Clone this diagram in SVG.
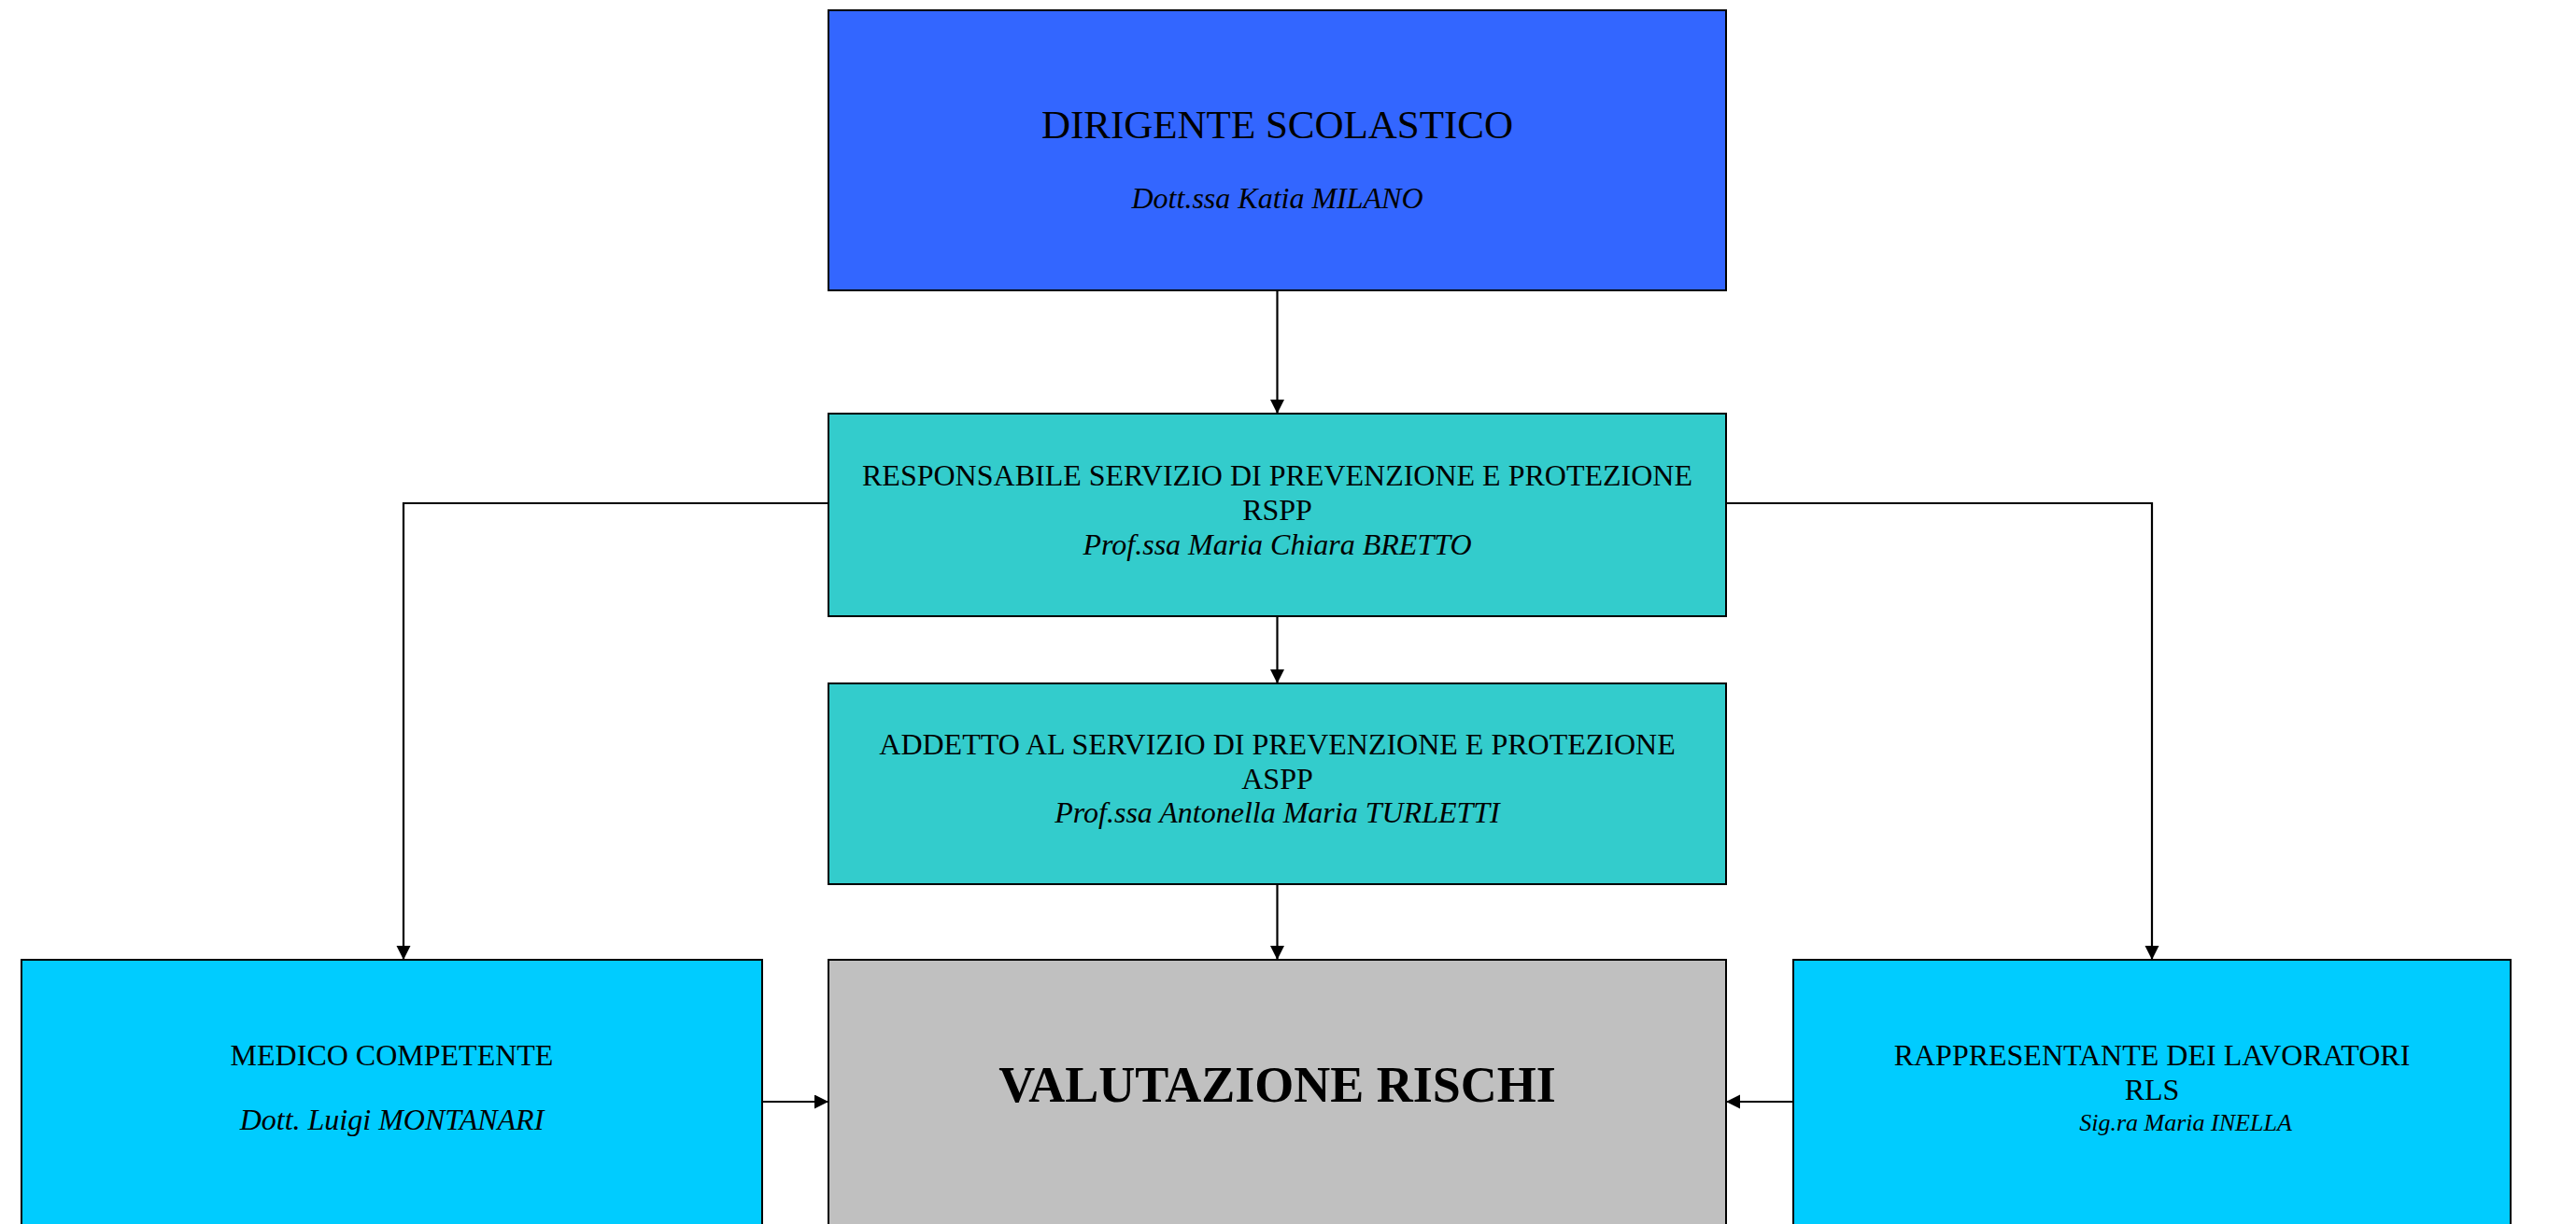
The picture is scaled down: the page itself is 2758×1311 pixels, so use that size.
<svg xmlns="http://www.w3.org/2000/svg" width="2758" height="1311" viewBox="0 0 2758 1311">
<style>
.box{stroke:#000;stroke-width:2}
.t{font-family:"Liberation Serif","Times New Roman",serif;fill:#000;text-anchor:middle}
.n{font-size:32px}
.i{font-size:32px;font-style:italic}
.conn{fill:none;stroke:#000;stroke-width:2.2}
</style>
<defs>
<marker id="arr" markerUnits="userSpaceOnUse" markerWidth="18" markerHeight="18" refX="15" refY="7.5" orient="auto">
<path d="M0,0 L15,7.5 L0,15 z" fill="#000"/>
</marker>
</defs>
<rect width="2758" height="1311" fill="#fff"/>
<g id="connectors">
<path class="conn" d="M1367.5,311 V443" marker-end="url(#arr)"/>
<path class="conn" d="M1367.5,660 V732" marker-end="url(#arr)"/>
<path class="conn" d="M1367.5,947 V1028" marker-end="url(#arr)"/>
<path class="conn" d="M887,539 H432 V1028" marker-end="url(#arr)"/>
<path class="conn" d="M1848,539 H2304 V1028" marker-end="url(#arr)"/>
<path class="conn" d="M816,1180 H887" marker-end="url(#arr)"/>
<path class="conn" d="M1920,1180 H1848" marker-end="url(#arr)"/>
</g>
<g id="dirigente">
<rect class="box" x="887" y="11" width="961" height="300" fill="#3366FF"/>
<text class="t" x="1367.5" y="148" font-size="43">DIRIGENTE SCOLASTICO</text>
<text class="t i" x="1367.5" y="223">Dott.ssa Katia MILANO</text>
</g>
<g id="rspp">
<rect class="box" x="887" y="443" width="961" height="217" fill="#33CCCC"/>
<text class="t n" x="1367.5" y="520">RESPONSABILE SERVIZIO DI PREVENZIONE E PROTEZIONE</text>
<text class="t n" x="1367.5" y="557">RSPP</text>
<text class="t i" x="1367.5" y="594">Prof.ssa Maria Chiara BRETTO</text>
</g>
<g id="aspp">
<rect class="box" x="887" y="732" width="961" height="215" fill="#33CCCC"/>
<text class="t n" x="1367.5" y="808">ADDETTO AL SERVIZIO DI PREVENZIONE E PROTEZIONE</text>
<text class="t n" x="1367.5" y="845">ASPP</text>
<text class="t i" x="1367.5" y="881">Prof.ssa Antonella Maria TURLETTI</text>
</g>
<g id="valutazione">
<rect class="box" x="887" y="1028" width="961" height="310" fill="#C0C0C0"/>
<text class="t" x="1367.5" y="1180" font-size="54" font-weight="bold">VALUTAZIONE RISCHI</text>
</g>
<g id="medico">
<rect class="box" x="23" y="1028" width="793" height="310" fill="#00CCFF"/>
<text class="t n" x="419.5" y="1141">MEDICO COMPETENTE</text>
<text class="t i" x="419.5" y="1210">Dott. Luigi MONTANARI</text>
</g>
<g id="rls">
<rect class="box" x="1920" y="1028" width="768" height="310" fill="#00CCFF"/>
<text class="t n" x="2304" y="1141">RAPPRESENTANTE DEI LAVORATORI</text>
<text class="t n" x="2304" y="1178">RLS</text>
<text class="t" x="2340" y="1211" font-size="26" font-style="italic">Sig.ra Maria INELLA</text>
</g>
</svg>
